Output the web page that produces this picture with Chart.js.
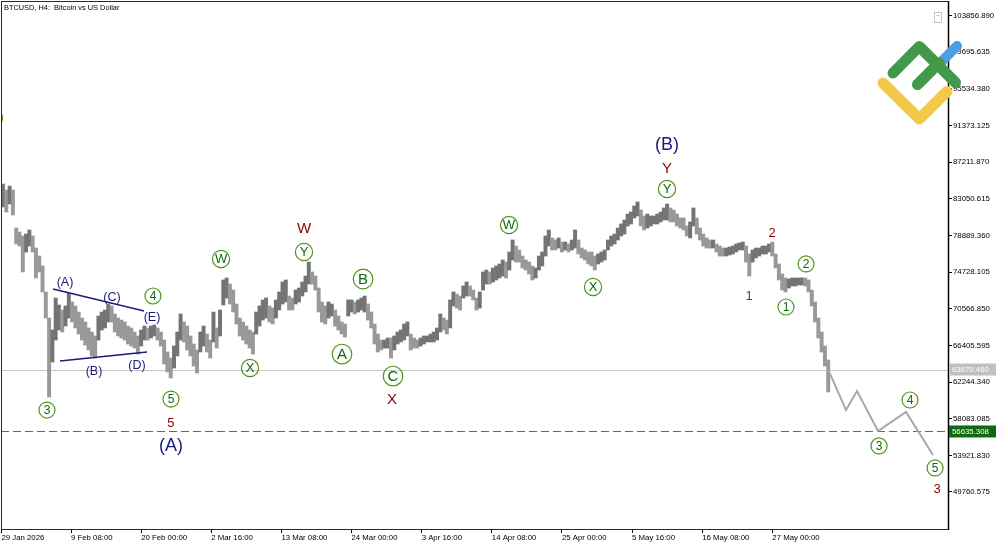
<!DOCTYPE html>
<html><head><meta charset="utf-8">
<script src="https://cdn.jsdelivr.net/npm/chart.js@4.4.1/dist/chart.umd.min.js"></script>
<style>html,body{margin:0;padding:0;background:#fff;overflow:hidden}#wrap{width:1000px;height:545px;position:relative}</style>
</head><body><div id="wrap"><canvas id="c" width="1000" height="545"></canvas></div>
<script>
// ---- data (x in days since 29 Jan 2026 00:00, prices in USD) ----
const chartTitle = 'BTCUSD, H4:  Bitcoin vs US Dollar';
const firstBarDay = 1.0;
const barStepDays = 0.5;
const highs = [
84740,84060,84510,84060,79740,79290,78840,79060,79520,78840,
77470,76560,75430,72480,69520,68160,71790,71000,70430,70890,
72360,71340,70890,70200,69520,69070,68390,67930,67480,69750,
70200,70430,71110,70890,69980,69520,69290,69070,68610,68390,
67930,67480,68160,68610,68390,68610,68730,68390,67930,67020,
65660,64980,66340,67930,69980,69070,68610,67480,66570,65890,
67930,68610,67700,67020,70200,68390,70430,73840,74070,73380,
72700,71110,69520,69070,68610,68160,67930,70200,70890,71570,
71790,70890,70660,71570,72480,73610,73840,72020,71790,72700,
72930,73610,74290,75880,74750,74290,72930,71340,70890,71340,
71110,70430,69750,69070,68840,71570,71570,71340,71570,71790,
72020,71110,70200,68840,67700,67020,67020,67250,67250,67480,
67930,68160,68840,69070,67700,67250,67020,67250,67480,67480,
67700,67930,68390,69980,69520,69290,71570,72480,72250,72020,
73160,73610,73160,72700,71790,72480,74750,74970,74750,75200,
75430,75660,76110,75880,77020,78380,77700,77250,76560,76110,
75880,75430,75200,76560,77020,78840,79520,78610,78380,78610,
78150,78150,77930,78380,79520,78380,77470,77250,77020,77020,
76560,76790,77020,77250,78380,78840,79060,79740,80200,80650,
81330,81560,82240,82700,81790,81110,81330,81110,81110,81330,
81560,82020,82470,82020,81790,81330,80880,80880,79970,80430,
82020,80880,79740,79060,78610,78380,78380,77930,77700,77470,
77470,77590,77700,77930,78040,78150,77700,76790,77250,77470,
77470,77700,77700,77930,78150,76790,75660,74520,74070,73950,
74070,74070,74070,74070,74070,73840,72700,71340,69520,67930,
66340,64750];
const lows = [
82130,81560,82470,81220,77930,77700,74750,77020,77700,77020,
74070,74750,72480,69520,60550,64520,67020,68160,67930,68610,
69520,69070,68390,67700,67020,66460,65890,65210,64980,67020,
68160,68390,69070,69070,67930,67480,67250,67020,66570,66340,
66110,65430,66340,67020,67020,67250,67480,67020,66340,64300,
63390,62710,63840,65210,67020,66800,65890,65210,64070,63280,
65660,66340,65660,64980,66800,66110,67480,71000,71790,71110,
70200,68840,67480,67020,66570,66110,65430,67700,68610,69290,
69520,69070,68840,69520,70430,71110,71340,70430,70430,71110,
71340,72020,72480,73380,73380,72700,70200,69070,68840,69520,
69750,68610,68160,67700,67360,69750,70200,69980,70200,70430,
70200,69290,68390,66570,65660,65890,66110,66110,64980,65890,
66570,66800,67020,67480,65890,66110,66110,66340,66570,66800,
66800,66800,67020,67930,68160,67700,68390,70890,70660,70430,
71790,72020,72020,71570,70430,70660,72700,73380,73380,73610,
73840,74070,74290,74070,74970,76110,75880,75880,75200,74970,
74520,73840,74070,74970,75430,76560,77700,77250,77250,77470,
77020,77250,77020,77250,77470,76790,76340,76110,75660,75430,
74970,75660,75880,76110,77250,77700,77930,78380,78840,79060,
79970,80200,80880,81110,79970,79520,79740,79970,80200,80200,
80430,80650,80650,80430,80430,79970,79740,79520,78840,78610,
79970,79060,78380,77700,77470,77470,77470,77020,76560,76560,
76560,76680,76790,77020,77250,77250,75880,74290,75880,76340,
76560,76790,76790,77020,76560,75200,73840,72700,72480,72930,
73160,73160,73270,73270,73160,72480,70890,69070,67250,65660,
64070,61120];
const projDays   = [126.5, 129.21, 130.88, 134.08, 138.34, 142.44];
const projPrices = [63670, 59070, 61230, 56690, 58850, 53960];
const currentPrice = 63670.460;
const targetPrice  = 56635.308;
const yTickValues = [103856.890,99695.635,95534.380,91373.125,87211.870,83050.615,78889.360,74728.105,70566.850,66405.595,62244.340,58083.085,53921.830,49760.575];
const xTickDays   = [0.75,11.3333,22,32.6667,43.3333,54,64.6667,75.3333,86,96.6667,107.3333,118];
const xTickLabels = ['29 Jan 2026','9 Feb 08:00','20 Feb 00:00','2 Mar 16:00','13 Mar 08:00','24 Mar 00:00','3 Apr 16:00','14 Apr 08:00','25 Apr 00:00','5 May 16:00','16 May 08:00','27 May 00:00'];
// wave labels: text, day, price, style
const waveLabels = [
  ['3',-0.30,92240,'cd'],
  ['3',7.68,59070,'cd'],
  ['(A)',10.42,73610,'nav'],
  ['(B)',14.83,63500,'nav'],
  ['(C)',17.57,71910,'nav'],
  ['(D)',21.37,64180,'nav'],
  ['(E)',23.65,69640,'nav'],
  ['4',23.80,72020,'cd'],
  ['5',26.54,60320,'cd'],
  ['5',26.54,57600,'red'],
  ['(A)',26.54,54990,'navBig'],
  ['W',34.15,76220,'cw'],
  ['X',38.56,63840,'cw'],
  ['Y',46.77,77020,'cw'],
  ['W',46.77,79740,'redBig'],
  ['A',52.55,65430,'cb'],
  ['B',55.75,73950,'cb'],
  ['C',60.31,62930,'cb'],
  ['X',60.16,60320,'redBig'],
  ['W',77.95,80080,'cw'],
  ['X',90.73,73040,'cw'],
  ['Y',101.98,84170,'cw'],
  ['Y',101.98,86560,'redBig'],
  ['(B)',101.98,89170,'navBig'],
  ['1',114.46,72020,'pur'],
  ['2',117.95,79180,'red'],
  ['1',120.08,70770,'cd'],
  ['2',123.13,75660,'cd'],
  ['3',134.23,54990,'cd'],
  ['4',138.94,60210,'cd'],
  ['5',142.75,52490,'cd'],
  ['3',143.05,50100,'red']
];
const triangleLines = [[8.59,72815,22.44,70317],[9.66,64638,22.89,65660]];

// ---- rendering ----
const FONT = '"Liberation Sans", Arial, sans-serif';
const barData = highs.map((h,i)=>({x:firstBarDay+i*barStepDays, y:[lows[i],h]}));
const barColors = highs.map((h,i)=>{
  if(i===0) return '#7a7a7a';
  const m=(h+lows[i])/2, pm=(highs[i-1]+lows[i-1])/2;
  return m>=pm ? '#747474' : '#999999';
});

const styles = {
  cd:{circle:true,r:8,font:12,color:'#0b6b0b'},
  cw:{circle:true,r:8.6,font:13,color:'#0b6b0b'},
  cb:{circle:true,r:9.8,font:15,color:'#0b6b0b'},
  nav:{font:12.5,color:'#1a1a7a'},
  navBig:{font:18,color:'#1a1a7a'},
  red:{font:13,color:'#8b0000'},
  redBig:{font:15,color:'#8b0000'},
  pur:{font:13,color:'#7a2a7a'}
};

const overlay = {
  id:'overlay',
  beforeDatasetsDraw(chart){
    const {ctx,chartArea:a,scales:{y}} = chart;
    ctx.save();
    ctx.beginPath(); ctx.rect(a.left,a.top,a.right-a.left,a.bottom-a.top); ctx.clip();
    let py = Math.round(y.getPixelForValue(currentPrice))+0.5;
    ctx.strokeStyle='#c6c6c6'; ctx.lineWidth=1;
    ctx.beginPath(); ctx.moveTo(a.left,py); ctx.lineTo(a.right,py); ctx.stroke();
    py = Math.round(y.getPixelForValue(targetPrice))+0.5;
    ctx.strokeStyle='#17a017'; ctx.setLineDash([8,4]);
    ctx.beginPath(); ctx.moveTo(a.left,py); ctx.lineTo(a.right,py); ctx.stroke();
    ctx.restore();
  },
  afterDatasetsDraw(chart){
    const {ctx,chartArea:a,scales:{x,y}} = chart;
    ctx.save();
    ctx.beginPath(); ctx.rect(a.left,a.top,a.right-a.left,a.bottom-a.top); ctx.clip();
    ctx.strokeStyle='#1c1c7c'; ctx.lineWidth=1.5;
    triangleLines.forEach(l=>{
      ctx.beginPath();
      ctx.moveTo(x.getPixelForValue(l[0]),y.getPixelForValue(l[1]));
      ctx.lineTo(x.getPixelForValue(l[2]),y.getPixelForValue(l[3]));
      ctx.stroke();
    });
    ctx.textAlign='center'; ctx.textBaseline='middle';
    waveLabels.forEach(([t,d,p,s])=>{
      const st=styles[s];
      const px=x.getPixelForValue(d), py=y.getPixelForValue(p);
      if(st.circle){
        ctx.beginPath(); ctx.arc(px,py,st.r,0,Math.PI*2);
        ctx.strokeStyle='#4f9418'; ctx.lineWidth=1.2; ctx.stroke();
      }
      ctx.fillStyle=st.color;
      ctx.font=st.font+'px '+FONT;
      ctx.fillText(t,px,py+0.5);
    });
    ctx.restore();
  },
  afterDraw(chart){
    const {ctx,chartArea:a,scales:{y}} = chart;
    ctx.save();
    // frame
    ctx.strokeStyle='#2a2a2a'; ctx.lineWidth=1;
    ctx.strokeRect(a.left+0.5,a.top+0.5,a.right-a.left,a.bottom-a.top);
    ctx.strokeStyle='#000'; ctx.lineWidth=1.5;
    ctx.beginPath(); ctx.moveTo(a.right+0.5,a.top); ctx.lineTo(a.right+0.5,a.bottom+1); ctx.stroke();
    // title
    ctx.fillStyle='#000'; ctx.font='7.4px '+FONT; ctx.textAlign='left'; ctx.textBaseline='middle';
    ctx.fillText(chartTitle,4,7.5);
    // small icon
    ctx.strokeStyle='#c4c4c4'; ctx.lineWidth=1; ctx.strokeRect(934.5,12.5,7,10);
    ctx.beginPath(); ctx.moveTo(936.5,15.5); ctx.lineTo(939.5,15.5); ctx.stroke();
    // price tags
    const tag=(v,bg)=>{
      const py=y.getPixelForValue(v);
      ctx.fillStyle=bg; ctx.fillRect(a.right+1,py-6,47,12);
      ctx.fillStyle='#fff'; ctx.font='7.8px '+FONT; ctx.textAlign='left'; ctx.textBaseline='middle';
      ctx.fillText(v.toFixed(3),a.right+4,py+0.5);
    };
    tag(currentPrice,'#c0c0c0');
    tag(targetPrice,'#0d6b0d');
    // logo
    ctx.lineCap='round'; ctx.lineJoin='round';
    ctx.strokeStyle='#4aa0e0'; ctx.lineWidth=10;
    ctx.beginPath(); ctx.moveTo(938,65); ctx.lineTo(957,46); ctx.stroke();
    ctx.strokeStyle='#43984a'; ctx.lineWidth=11;
    ctx.beginPath(); ctx.moveTo(917.5,84.5); ctx.lineTo(939,63); ctx.stroke();
    ctx.beginPath(); ctx.moveTo(893,73); ctx.lineTo(919.3,46.5); ctx.lineTo(955.5,82.5); ctx.stroke();
    ctx.strokeStyle='#f2c94a'; ctx.lineWidth=11;
    ctx.beginPath(); ctx.moveTo(883,83); ctx.lineTo(919.3,119); ctx.lineTo(947,91.5); ctx.stroke();
    ctx.restore();
  }
};

new Chart(document.getElementById('c'),{
  type:'bar',
  data:{datasets:[
    {type:'line',data:projDays.map((d,i)=>({x:d,y:projPrices[i]})),borderColor:'#a8a8a8',borderWidth:2,pointRadius:0,tension:0,order:0},
    {type:'bar',data:barData,backgroundColor:barColors,borderWidth:0,barPercentage:1,categoryPercentage:1,order:1}
  ]},
  options:{
    responsive:false,animation:false,devicePixelRatio:1,
    layout:{padding:{top:1,left:1,right:0,bottom:0}},
    plugins:{legend:{display:false},tooltip:{enabled:false}},
    scales:{
      x:{type:'linear',min:0.686,max:144.72,offset:false,
        grid:{offset:false,drawOnChartArea:false,drawTicks:true,tickLength:4,color:'#000'},
        border:{display:true,color:'#000'},
        afterBuildTicks:s=>{s.ticks=xTickDays.map(v=>({value:v}));},
        afterFit:s=>{s.height=16;s.paddingLeft=0;s.paddingRight=0;s.paddingTop=0;s.paddingBottom=0;},
        ticks:{autoSkip:false,maxRotation:0,minRotation:0,align:'start',padding:0,color:'#000',
          font:{family:FONT,size:7.8},callback:(v,i)=>xTickLabels[i]}},
      y:{type:'linear',position:'right',min:45558,max:105526,
        grid:{drawOnChartArea:false,drawTicks:true,tickLength:4,color:'#000'},
        border:{display:true,color:'#000'},
        afterBuildTicks:s=>{s.ticks=yTickValues.map(v=>({value:v}));},
        afterFit:s=>{s.width=52;s.paddingTop=0;s.paddingBottom=0;s.paddingLeft=0;s.paddingRight=0;},
        ticks:{autoSkip:false,padding:1,color:'#000',font:{family:FONT,size:7.8},
          callback:v=>Number(v).toFixed(3)}}
    }
  },
  plugins:[overlay]
});
</script></body></html>
